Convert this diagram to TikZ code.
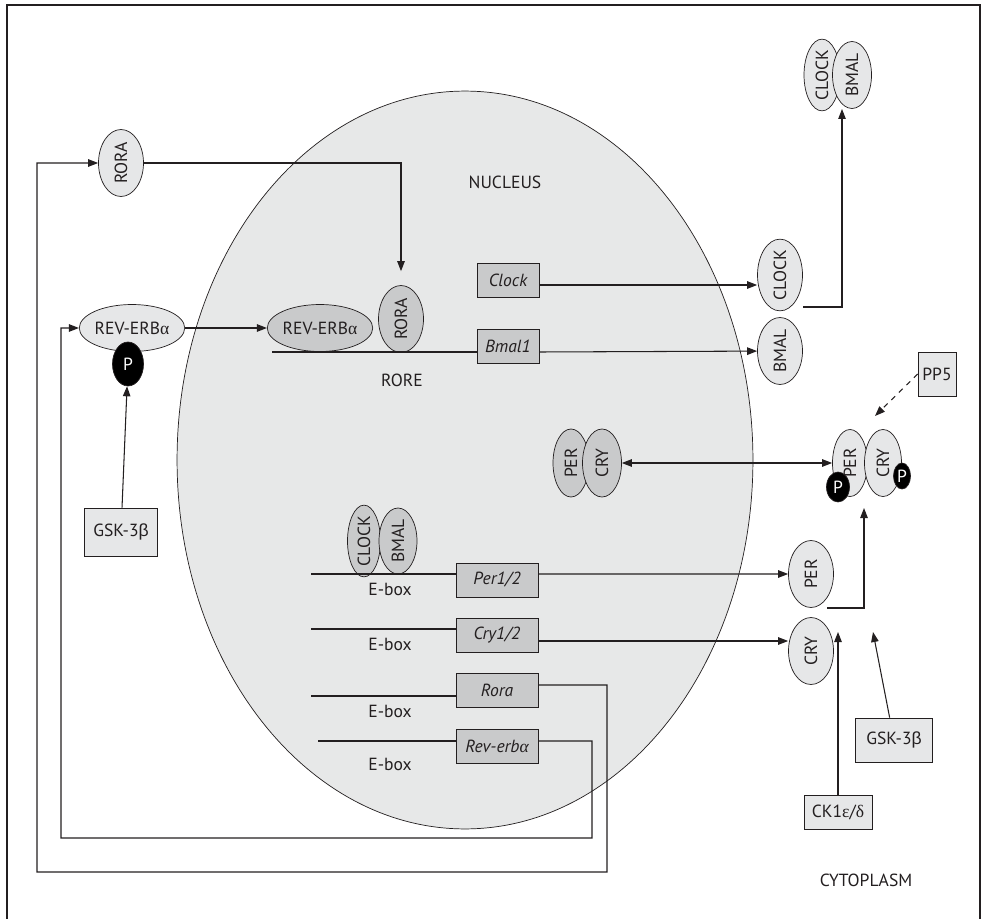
\documentclass[tikz,border=0pt]{standalone}
\usepackage{fontspec}
\setmainfont{PT Sans}
\newfontfamily\grks{Liberation Sans}
\newfontfamily\grkr{Liberation Serif}
\usetikzlibrary{positioning, shapes.geometric, arrows.meta}
\definecolor{nucfill}{HTML}{E7E8E8}
\definecolor{protlight}{HTML}{E6E7E8}
\definecolor{protdark}{HTML}{C9CACB}
\definecolor{ink}{HTML}{231F20}

\begin{document}
\begin{tikzpicture}[x=0.02cm, y=-0.02cm,
        prot/.style={draw=ink, ellipse, fill=protlight, rotate=90, inner sep=0pt,
                     minimum width=1.34cm, minimum height=0.9cm},
        protin/.style={prot, fill=protdark},
        oval/.style={draw=ink, ellipse, fill=protlight, inner sep=0pt,
                     minimum width=1.96cm, minimum height=0.94cm},
        ovalin/.style={oval, fill=protdark},
        phos/.style={draw=ink, ellipse, fill=black, text=white, inner sep=0pt},
        gene/.style={draw=ink, fill=protdark, inner sep=0pt, minimum width=1.64cm,
                     minimum height=0.68cm, font=\fontsize{10}{12}\selectfont\itshape},
        kin/.style={draw=ink, fill=protlight, inner sep=0pt},
        wire/.style={draw=ink, line width=0.6pt},
        arr/.style={wire, -{Triangle[length=2mm, width=1.5mm]}},
        every node/.style={font=\fontsize{10}{12}\selectfont, text=ink}
    ]
    \useasboundingbox (0,0) rectangle (987,919);

    % Cell frame and nucleus
    \draw[wire] (7,919) -- (7,5) -- (980,5) -- (980,919);
    \node[draw=ink, ellipse, fill=nucfill, minimum width=11.52cm, minimum height=14.76cm]
        (nucleus) at (465,460) {};
    \node (nuclab)  at (505,182) {NUCLEUS};
    \node (cytolab) at (866,880) {CYTOPLASM};

    % Left: RORA and REV-ERBa in the cytoplasm
    \node[prot] (rorao) at (121,163) {RORA};
    \node[oval] (revo)  at (132,328) {REV-ERB{\grkr α}};
    \node[phos, minimum width=0.62cm, minimum height=0.88cm] (pho1) at (128,364) {P};
    \node[kin, minimum width=1.46cm, minimum height=0.96cm] (gsk1) at (121,532) {GSK-3{\grks β}};

    % RORE
    \node[ovalin] (revi)  at (320,328) {REV-ERB{\grkr α}};
    \node[protin] (rorai) at (401,319) {RORA};
    \node (rore) at (402,380) {RORE};
    \node[gene, minimum width=1.24cm] (clockg) at (508,280) {Clock};
    \node[gene, minimum width=1.24cm] (bmalg)  at (508,346) {Bmal1};

    % PER/CRY in the nucleus
    \node[protin, minimum width=1.36cm, minimum height=0.72cm] (perm) at (571,463) {PER};
    \node[protin, minimum width=1.36cm, minimum height=0.78cm] (crym) at (602,463) {CRY};

    % E-box genes
    \node[protin, minimum width=1.32cm, minimum height=0.66cm] (clocke) at (364,541) {CLOCK};
    \node[protin, minimum width=1.32cm, minimum height=0.76cm] (bmale)  at (398,541) {BMAL};
    \node[gene] (perg) at (497,580) {Per1/2};
    \node[gene] (cryg) at (497,635) {Cry1/2};
    \node[gene] (rorg) at (497,690) {Rora};
    \node[gene] (revg) at (497,746) {Rev-erb{\grkr α}};
    \foreach \y/\n in {589/1, 644/2, 711/3, 764/4}
        \node (ebox\n) at (390,\y) {E-box};
    \coordinate (eb1) at (311,574);
    \coordinate (eb2) at (311,629);
    \coordinate (eb3) at (311,696);
    \coordinate (eb4) at (318,741);

    % Right: proteins in the cytoplasm
    \node[prot] (clockr) at (780,275) {CLOCK};
    \node[prot] (bmalr)  at (780,351) {BMAL};
    \node[prot, minimum height=0.72cm] (clockt) at (822,75) {CLOCK};
    \node[prot, minimum height=0.78cm] (bmalt)  at (852,75) {BMAL};
    \node[prot, minimum height=0.70cm] (perc) at (850,463) {PER};
    \node[prot, minimum height=0.74cm] (cryc) at (883,463) {CRY};
    \node[phos, minimum width=0.46cm, minimum height=0.6cm]  (pho2) at (838,487) {P};
    \node[phos, minimum width=0.34cm, minimum height=0.52cm] (pho3) at (902,476) {P};
    \node[prot] (perr) at (811,574) {PER};
    \node[prot] (cryr) at (811,651) {CRY};
    \node[kin, minimum width=0.76cm, minimum height=0.88cm] (pp5)  at (937,374) {PP5};
    \node[kin, minimum width=1.54cm, minimum height=0.88cm] (gsk2) at (894,740) {GSK-3{\grks β}};
    \node[kin, minimum width=1.36cm, minimum height=0.68cm] (ck1)  at (838,812) {CK1{\grkr ε}/{\grkr δ}};
    \coordinate (clkout) at (803,307);
    \coordinate (cbin)   at (842,109);
    \coordinate (perout) at (827,608);
    \coordinate (pcin)   at (864,508);
    \coordinate (ckin)   at (838,632);
    \coordinate (gskin)  at (873,632);
    \coordinate (ppin)   at (875,416);

    % Arrows: RORA and REV-ERBa
    \draw[arr, shorten >=0.28cm] (rorao) -| (rorai);
    \draw[arr] (revo) -- (revi);
    \draw[arr] (gsk1) -- (pho1);
    \draw[wire] (272,352) -- (bmalg.west |- 272,352);

    % Arrows: clock genes out of the nucleus
    \draw[arr] ([yshift=-0.1cm]clockg.east) -- ([yshift=-0.1cm]clockg.east -| clockr.north);
    \draw[arr] ([yshift=-0.12cm]bmalg.east) -- (bmalr);
    \draw[arr] (clkout) -| (cbin);
    \draw[arr] ([yshift=0.12cm]perg.east) -- (perr);
    \draw[arr] ([yshift=-0.12cm]cryg.east) -- ([yshift=-0.12cm]cryg.east -| cryr.north);
    \draw[arr] (perout) -| (pcin);
    \draw[arr] (ck1) -- (ckin);
    \draw[arr] (gsk2) -- (gskin);
    \draw[arr, dashed] (pp5.west) -- (ppin);
    \draw[wire, {Triangle[length=2mm, width=1.5mm]}-{Triangle[length=2mm, width=1.5mm]}] (crym) -- (perc);

    % E-box lines
    \draw[wire] (eb1) -- (eb1 -| perg.west);
    \draw[wire] (eb2) -- (eb2 -| cryg.west);
    \draw[wire] (eb3) -- (eb3 -| rorg.west);
    \draw[wire] (eb4) -- (eb4 -| revg.west);

    % Feedback loops
    \draw[arr] ([yshift=0.1cm]rorg.east) -- (607,685) -- (607,872) -- (37,872) |- (rorao);
    \draw[arr] ([yshift=0.1cm]revg.east) -- (592,741) -- (592,838) -- (61,838) |- (revo);
\end{tikzpicture}
\end{document}
